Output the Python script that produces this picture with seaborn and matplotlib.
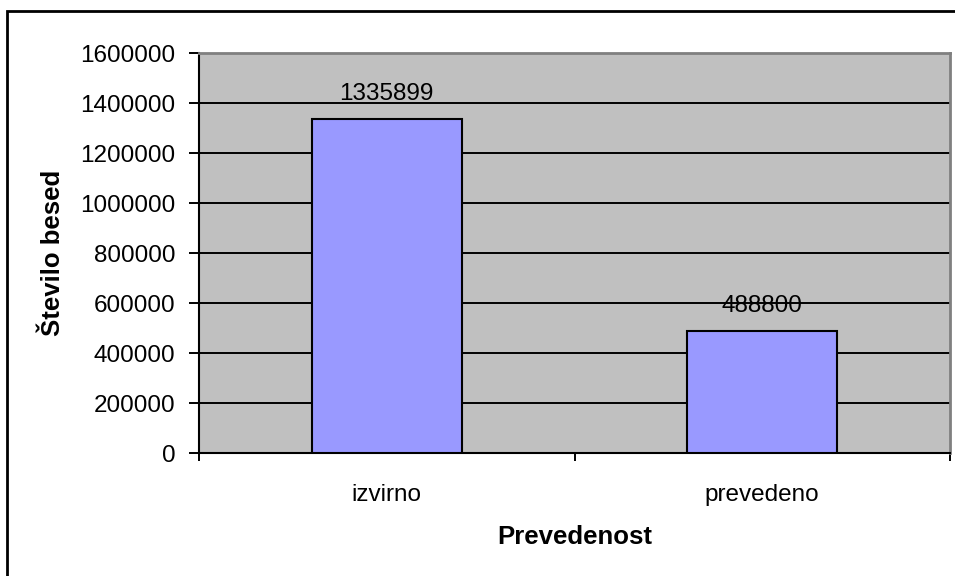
import matplotlib
matplotlib.use("Agg")
import matplotlib.pyplot as plt
from matplotlib.patches import Rectangle
import seaborn as sns
import pandas as pd

categories = ["izvirno", "prevedeno"]
values = [1335899, 488800]
yticks = [0, 200000, 400000, 600000, 800000, 1000000, 1200000, 1400000, 1600000]

sns.set_style("white")
plt.rcParams["font.family"] = ["Liberation Sans", "DejaVu Sans"]
plt.rcParams["text.color"] = "black"
plt.rcParams["axes.labelcolor"] = "black"
plt.rcParams["xtick.color"] = "black"
plt.rcParams["ytick.color"] = "black"

df = pd.DataFrame({"Prevedenost": categories, "Število besed": values})

fig = plt.figure(figsize=(9.55, 5.76), dpi=100)
ax = fig.add_axes([199 / 955, 1 - 453 / 576, (950 - 199) / 955, (453 - 53) / 576])
ax.set_facecolor("#C0C0C0")

sns.barplot(data=df, x="Prevedenost", y="Število besed", color="#9999FF",
            saturation=1, width=0.4, edgecolor="black", linewidth=1.5, ax=ax, zorder=3)

ax.set_ylim(0, 1600000)
ax.set_xlim(-0.5, 1.5)
ax.set_yticks(yticks)
ax.set_yticklabels([str(t) for t in yticks])
ax.yaxis.grid(True, color="black", linewidth=1.4, zorder=1)
ax.set_axisbelow(True)

# category boundary ticks on the x axis, labels centred under bars
ax.set_xticks([-0.5, 0.5, 1.5])
ax.set_xticklabels([])
ax.set_xticks([0, 1], minor=True)
ax.set_xticklabels(categories, minor=True)
ax.tick_params(axis="x", which="major", bottom=True, direction="out", length=6,
               width=1.4, color="black")
ax.tick_params(axis="x", which="minor", bottom=False, length=0, pad=22, labelsize=17.5)
ax.tick_params(axis="y", left=True, direction="out", length=7, width=1.4,
               color="black", labelsize=17.5, pad=10)

for side in ["left", "bottom"]:
    ax.spines[side].set_color("black")
    ax.spines[side].set_linewidth(1.5)
for side in ["top", "right"]:
    ax.spines[side].set_color("#808080")
    ax.spines[side].set_linewidth(2)
    ax.spines[side].set_visible(True)

for i, v in enumerate(values):
    ax.annotate(str(v), xy=(i, v), xytext=(0, 13.5), textcoords="offset points",
                ha="center", va="baseline", fontsize=17.5, zorder=4)

ax.set_xlabel("Prevedenost", fontsize=18.5, fontweight="bold", labelpad=14)
ax.set_ylabel("Število besed", fontsize=18.5, fontweight="bold", labelpad=11)

# chart frame
fig.patches.append(Rectangle((7 / 955, -0.1), 1.2, 1 - 10.5 / 576 + 0.1,
                             transform=fig.transFigure, fill=False,
                             edgecolor="black", linewidth=2))

fig.savefig("out.png", dpi=100)
